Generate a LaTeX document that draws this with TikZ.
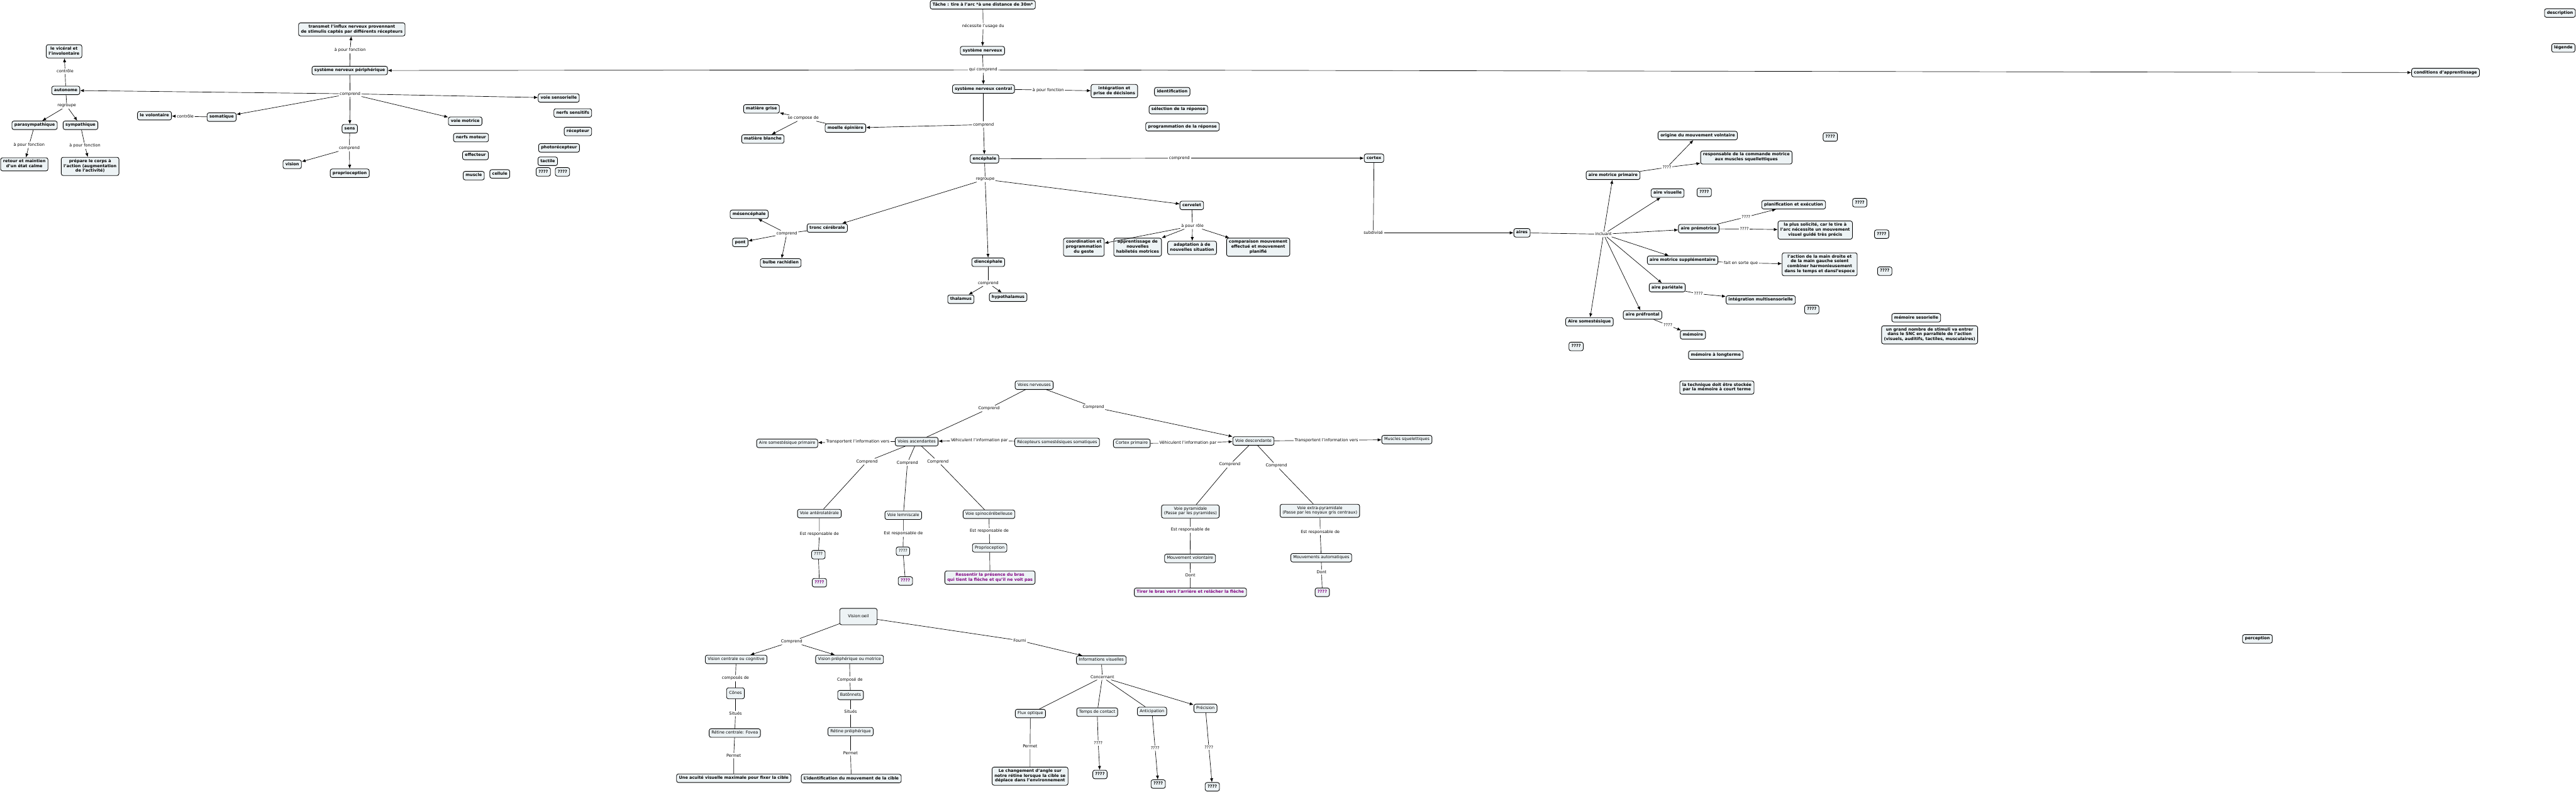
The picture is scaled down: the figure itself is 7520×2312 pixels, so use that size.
\documentclass[tikz,border=0pt]{standalone}
\usepackage{fontspec}
\setmainfont{DejaVu Sans}
\usetikzlibrary{arrows.meta}
\definecolor{boxfill}{RGB}{237,243,245}
\definecolor{plum}{RGB}{128,0,128}
\newcommand\mapfont{\fontsize{3.4}{4.1}\selectfont}

\begin{document}
\begin{tikzpicture}[x=0.01cm,y=-0.01cm,
  concept/.style={draw,rounded corners=1.6pt,fill=boxfill,line width=0.45pt,
    font=\mapfont\bfseries,align=center,inner xsep=2pt,inner ysep=1.5pt,
    execute at begin node=\strut},
  plainbox/.style={concept,font=\mapfont},
  hint/.style={concept,text=plum},
  lab/.style={font=\mapfont,fill=white,inner sep=0.7pt},
  link/.style={line width=0.35pt},
  arr/.style={link,-{Latex[length=3.2pt,width=2.6pt]}}]
\useasboundingbox (0,0) rectangle (7520,2312);

% spine
\node[concept] (tache) at (2869,14) {Tâche : tire à l'arc *à une distance de 30m*};
\node[concept] (sn) at (2868,148) {système nerveux};
\node[concept] (snc) at (2871,260) {système nerveux central};
\node[concept] (snp) at (1021,206) {système nerveux périphérique};
\node[concept] (transmet) at (1027,86) {transmet l'influx nerveux provennant\\de stimulis captés par différents récepteurs};
\node[concept] (conditions) at (7139,212) {conditions d'apprentissage};
\node[concept] (description) at (7473,38) {description};
\node[concept] (legende) at (7483,140) {légende};

% peripheral side
\node[concept] (viceral) at (187,150) {le vicéral et\\l'involontaire};
\node[concept] (autonome) at (192,264) {autonome};
\node[concept] (para) at (101,366) {parasympathique};
\node[concept] (sym) at (235,366) {sympathique};
\node[concept] (retour) at (71,480) {retour et maintien\\d'un état calme};
\node[concept] (prepare) at (263,486) {prépare le corps à\\l'action (augmentation\\de l'activité)};
\node[concept] (volont) at (451,338) {le volontaire};
\node[concept] (somat) at (647,342) {somatique};
\node[concept] (sens) at (1021,376) {sens};
\node[concept] (vision) at (853,480) {vision};
\node[concept] (proprio) at (1021,506) {proprioception};
\node[concept] (vsens) at (1631,286) {voie sensorielle};
\node[concept] (nsens) at (1672,330) {nerfs sensitifs};
\node[concept] (vmot) at (1358,354) {voie motrice};
\node[concept] (recep) at (1687,384) {récepteur};
\node[concept] (nmot) at (1375,402) {nerfs moteur};
\node[concept] (photo) at (1632,432) {photorécepteur};
\node[concept] (effect) at (1388,454) {effecteur};
\node[concept] (tactile) at (1599,471) {tactile};
\node[concept] (qa) at (1586,502) {????};
\node[concept] (qb) at (1642,502) {????};
\node[concept] (muscle) at (1383,513) {muscle};
\node[concept] (cellule) at (1459,508) {cellule};

% central side
\node[concept] (integ) at (3253,266) {intégration et\\prise de décisions};
\node[concept] (ident) at (3422,268) {identification};
\node[concept] (select) at (3440,320) {sélection de la réponse};
\node[concept] (progr) at (3452,370) {programmation de la réponse};
\node[concept] (mgrise) at (2223,318) {matière grise};
\node[concept] (moelle) at (2468,374) {moelle épinière};
\node[concept] (mblanche) at (2227,406) {matière blanche};
\node[concept] (enceph) at (2874,464) {encéphale};
\node[concept] (cortex) at (4011,462) {cortex};
\node[concept] (tronc) at (2415,666) {tronc cérébrale};
\node[concept] (mesen) at (2187,626) {mésencéphale};
\node[concept] (pont) at (2161,708) {pont};
\node[concept] (bulbe) at (2279,768) {bulbe rachidien};
\node[concept] (dience) at (2885,766) {diencéphale};
\node[concept] (thal) at (2805,874) {thalamus};
\node[concept] (hypo) at (2943,868) {hypothalamus};
\node[concept] (cervelet) at (3479,600) {cervelet};
\node[concept] (coord) at (3164,722) {coordination et\\programmation\\du geste};
\node[concept] (appr) at (3321,722) {apprentissage de\\nouvelles\\habiletés motrices};
\node[concept] (adapt) at (3480,724) {adaptation à de\\nouvelles situation};
\node[concept] (compar) at (3673,722) {comparaison mouvement\\effectué et mouvement\\planifié};

% cortex areas
\node[concept] (aires) at (4443,680) {aires};
\node[concept] (somest) at (4640,940) {Aire somestésique};
\node[concept] (qsomest) at (4601,1012) {????};
\node[concept] (amp) at (4709,512) {aire motrice primaire};
\node[concept] (origine) at (4956,396) {origine du mouvement volntaire};
\node[concept] (qc) at (5343,400) {????};
\node[concept] (respons) at (5098,460) {responsable de la commande motrice\\aux muscles squellettiques};
\node[concept] (avis) at (4868,564) {aire visuelle};
\node[concept] (qd) at (4975,562) {????};
\node[concept] (planif) at (5236,598) {planification et exécution};
\node[concept] (qe) at (5429,592) {????};
\node[concept] (aprem) at (4959,668) {aire prémotrice};
\node[concept] (solicite) at (5299,672) {la plus solicité, car le tire à\\l'arc nécessite un mouvement\\visuel guidé très précis};
\node[concept] (qf) at (5493,684) {????};
\node[concept] (ams) at (4912,760) {aire motrice supplémentaire};
\node[concept] (action) at (5312,772) {l'action de la main droite et\\de la main gauche soient\\combiner harmonieusement\\dans le temps et dansl'espoce};
\node[concept] (qg) at (5502,792) {????};
\node[concept] (apar) at (4867,840) {aire pariétale};
\node[concept] (multi) at (5140,876) {intégration multisensorielle};
\node[concept] (qh) at (5289,904) {????};
\node[concept] (apref) at (4795,920) {aire préfrontal};
\node[concept] (memoire) at (4942,978) {mémoire};
\node[concept] (memlong) at (5009,1037) {mémoire à longterme};
\node[concept] (technique) at (5012,1132) {la technique doit être stockée\\par la mémoire à court terme};
\node[concept] (memsens) at (5594,928) {mémoire sesorielle};
\node[concept] (stimuli) at (5633,978) {un grand nombre de stimuli va entrer\\dans le SNC en parrallèle de l'action\\(visuels, auditifs, tactiles, musculaires)};
\node[concept] (perception) at (6590,1866) {perception};

% link phrases, upper map
\node[lab] (lnecess) at (2870,76) {nécessite l'usage du};
\node[lab] (lqui) at (2870,204) {qui comprend};
\node[lab] (lsnpfct) at (1022,147) {à pour fonction};
\node[lab] (lsnpcomp) at (1022,274) {comprend};
\node[lab] (lctrlA) at (190,208) {contrôle};
\node[lab] (lregrA) at (195,310) {regroupe};
\node[lab] (lfctA) at (85,423) {à pour fonction};
\node[lab] (lfctB) at (248,426) {à pour fonction};
\node[lab] (lctrlB) at (541,340) {contrôle};
\node[lab] (lsenscomp) at (1020,433) {comprend};
\node[lab] (lsncfct) at (3060,263) {à pour fonction};
\node[lab] (lsnccomp) at (2871,364) {comprend};
\node[lab] (lcompose) at (2345,345) {se compose de};
\node[lab] (lenccomp) at (3443,462) {comprend};
\node[lab] (lregrB) at (2876,524) {regroupe};
\node[lab] (ltronc) at (2297,682) {comprend};
\node[lab] (ldience) at (2885,827) {comprend};
\node[lab] (lrole) at (3481,660) {à pour rôle};
\node[lab] (lsubdiv) at (4009,680) {subdivisé};
\node[lab] (lincl) at (4681,684) {incluant};
\node[lab] (lamp) at (4866,489) {????};
\node[lab] (lpremA) at (5097,634) {????};
\node[lab] (lpremB) at (5092,669) {????};
\node[lab] (lfait) at (5082,768) {fait en sorte que};
\node[lab] (lpar) at (4958,858) {????};
\node[lab] (lpref) at (4869,950) {????};

\draw[link] (tache) -- (lnecess);
\draw[arr] (lnecess) -- (sn);
\draw[link] (sn) -- (lqui);
\foreach \t in {snc,snp,conditions} \draw[arr] (lqui) -- (\t);
\draw[link] (snp) -- (lsnpfct);
\draw[arr] (lsnpfct) -- (transmet);
\draw[link] (snp) -- (lsnpcomp);
\foreach \t in {autonome,somat,sens,vmot,vsens} \draw[arr] (lsnpcomp) -- (\t);
\draw[link] (autonome) -- (lctrlA);
\draw[arr] (lctrlA) -- (viceral);
\draw[link] (autonome) -- (lregrA);
\foreach \t in {para,sym} \draw[arr] (lregrA) -- (\t);
\draw[link] (para) -- (lfctA);
\draw[arr] (lfctA) -- (retour);
\draw[link] (sym) -- (lfctB);
\draw[arr] (lfctB) -- (prepare);
\draw[link] (somat) -- (lctrlB);
\draw[arr] (lctrlB) -- (volont);
\draw[link] (sens) -- (lsenscomp);
\foreach \t in {vision,proprio} \draw[arr] (lsenscomp) -- (\t);
\draw[link] (snc) -- (lsncfct);
\draw[arr] (lsncfct) -- (integ);
\draw[link] (snc) -- (lsnccomp);
\foreach \t in {moelle,enceph} \draw[arr] (lsnccomp) -- (\t);
\draw[link] (moelle) -- (lcompose);
\foreach \t in {mgrise,mblanche} \draw[arr] (lcompose) -- (\t);
\draw[link] (enceph) -- (lenccomp);
\draw[arr] (lenccomp) -- (cortex);
\draw[link] (enceph) -- (lregrB);
\foreach \t in {tronc,dience,cervelet} \draw[arr] (lregrB) -- (\t);
\draw[link] (tronc) -- (ltronc);
\foreach \t in {mesen,pont,bulbe} \draw[arr] (ltronc) -- (\t);
\draw[link] (dience) -- (ldience);
\foreach \t in {thal,hypo} \draw[arr] (ldience) -- (\t);
\draw[link] (cervelet) -- (lrole);
\foreach \t in {coord,appr,adapt,compar} \draw[arr] (lrole) -- (\t);
\draw[link] (cortex) -- (lsubdiv);
\draw[arr] (lsubdiv) -- (aires);
\draw[link] (aires) -- (lincl);
\foreach \t in {amp,avis,aprem,ams,apar,apref,somest} \draw[arr] (lincl) -- (\t);
\draw[link] (amp) -- (lamp);
\foreach \t in {origine,respons} \draw[arr] (lamp) -- (\t);
\foreach \l/\t in {lpremA/planif,lpremB/solicite} {
  \draw[link] (aprem) -- (\l);
  \draw[arr] (\l) -- (\t);
}
\draw[link] (ams) -- (lfait);
\draw[arr] (lfait) -- (action);
\draw[link] (apar) -- (lpar);
\draw[arr] (lpar) -- (multi);
\draw[link] (apref) -- (lpref);
\draw[arr] (lpref) -- (memoire);

% pathways
\node[plainbox] (voies) at (3019,1125) {Voies nerveuses};
\node[plainbox] (asc) at (2676,1290) {Voies ascendantes};
\node[plainbox] (airesp) at (2298,1295) {Aire somestésique primaire};
\node[plainbox] (recsom) at (3086,1292) {Récepteurs somestésiques somatiques};
\node[plainbox] (cortprim) at (3304,1295) {Cortex primaire};
\node[plainbox] (desc) at (3659,1288) {Voie descendante};
\node[plainbox] (musq) at (4107,1284) {Muscles squelettiques};
\node[plainbox] (antero) at (2392,1500) {Voie antérolatérale};
\node[plainbox] (lemni) at (2637,1505) {Voie lemniscale};
\node[plainbox] (spino) at (2887,1502) {Voie spinocérébelleuse};
\node[plainbox] (qantero) at (2389,1620) {????};
\node[plainbox] (qlemni) at (2636,1610) {????};
\node[plainbox] (proprioB) at (2889,1600) {Proprioception};
\node[hint] (pantero) at (2392,1702) {????};
\node[hint] (plemni) at (2643,1697) {????};
\node[hint] (ressentir) at (2890,1687) {Ressentir la présence du bras\\qui tient la flèche et qu'il ne voit pas};
\node[plainbox] (pyram) at (3475,1494) {Voie pyramidale\\(Passe par les pyramides)};
\node[plainbox] (extra) at (3853,1492) {Voie extra-pyramidale\\(Passe par les noyaux gris centraux)};
\node[plainbox] (mvol) at (3474,1631) {Mouvement volontaire};
\node[plainbox] (mauto) at (3857,1629) {Mouvements automatiques};
\node[hint] (tirer) at (3475,1730) {Tirer le bras vers l'arrière et relâcher la flèche};
\node[hint] (pauto) at (3860,1730) {????};

\node[lab] (lcompA) at (2887,1193) {Comprend};
\node[lab] (lcompD) at (3192,1189) {Comprend};
\node[lab] (ltransA) at (2504,1290) {Transportent l'information vers};
\node[lab] (lvehA) at (2859,1286) {Véhiculent l'information par};
\node[lab] (lvehD) at (3468,1294) {Véhiculent l'information par};
\node[lab] (ltransD) at (3872,1286) {Transportent l'information vers};
\node[lab] (lcA) at (2531,1348) {Comprend};
\node[lab] (lcB) at (2649,1352) {Comprend};
\node[lab] (lcC) at (2738,1348) {Comprend};
\node[lab] (lcD) at (3590,1357) {Comprend};
\node[lab] (lcE) at (3726,1360) {Comprend};
\node[lab] (lrA) at (2392,1560) {Est responsable de};
\node[lab] (lrB) at (2637,1559) {Est responsable de};
\node[lab] (lrC) at (2888,1551) {Est responsable de};
\node[lab] (lrD) at (3475,1547) {Est responsable de};
\node[lab] (lrE) at (3854,1554) {Est responsable de};
\node[lab] (ldontA) at (3475,1680) {Dont};
\node[lab] (ldontB) at (3858,1671) {Dont};

\draw[link] (voies) -- (lcompA) -- (asc);
\draw[link] (voies) -- (lcompD);
\draw[arr] (lcompD) -- (desc);
\draw[link] (asc) -- (ltransA);
\draw[arr] (ltransA) -- (airesp);
\draw[link] (recsom) -- (lvehA);
\draw[arr] (lvehA) -- (asc);
\draw[link] (cortprim) -- (lvehD);
\draw[arr] (lvehD) -- (desc);
\draw[link] (desc) -- (ltransD);
\draw[arr] (ltransD) -- (musq);
\foreach \l/\t in {lcA/antero,lcB/lemni,lcC/spino} \draw[link] (asc) -- (\l) -- (\t);
\foreach \l/\t in {lcD/pyram,lcE/extra} \draw[link] (desc) -- (\l) -- (\t);
\foreach \s/\l/\t in {antero/lrA/qantero,lemni/lrB/qlemni,spino/lrC/proprioB,pyram/lrD/mvol,extra/lrE/mauto}
  \draw[link] (\s) -- (\l) -- (\t);
\foreach \s/\t in {qantero/pantero,qlemni/plemni,proprioB/ressentir} \draw[link] (\s) -- (\t);
\draw[link] (mvol) -- (ldontA) -- (tirer);
\draw[link] (mauto) -- (ldontB) -- (pauto);

% vision
\node[plainbox,minimum width=1.09cm,minimum height=0.48cm] (oeil) at (2506,1801) {Vision:oeil};
\node[plainbox] (vcent) at (2149,1926) {Vision centrale ou cognitive};
\node[plainbox] (vperi) at (2480,1926) {Vision préiphérique ou motrice};
\node[plainbox,minimum width=0.52cm,minimum height=0.32cm] (cones) at (2147,2025) {Cônes};
\node[plainbox,minimum height=0.27cm] (baton) at (2483,2030) {Batônnets};
\node[plainbox] (rcent) at (2145,2141) {Rétine centrale: Fovea};
\node[plainbox] (rperi) at (2483,2137) {Rétine préiphérique};
\node[concept] (acuite) at (2142,2273) {Une acuité visuelle maximale pour fixer la cible};
\node[concept] (identB) at (2485,2274) {L'identification du mouvement de la cible};
\node[plainbox] (infos) at (3215,1928) {Informations visuelles};
\node[plainbox] (flux) at (3008,2084) {Flux optique};
\node[plainbox] (temps) at (3203,2080) {Temps de contact};
\node[plainbox] (antic) at (3363,2078) {Anticipation};
\node[plainbox] (precis) at (3519,2069) {Précision};
\node[concept] (angle) at (3007,2267) {Le changement d'angle sur\\notre rétine lorsque la cible se\\déplace dans l'environnement};
\node[concept] (qt) at (3211,2262) {????};
\node[concept] (qan) at (3381,2290) {????};
\node[concept] (qp) at (3539,2298) {????};

\node[lab] (loeil) at (2311,1874) {Comprend};
\node[lab] (lfourni) at (2977,1871) {Fourni};
\node[lab] (lcpdA) at (2147,1981) {composés de};
\node[lab] (lcpdB) at (2481,1985) {Composé de};
\node[lab] (lsitA) at (2147,2084) {Situés};
\node[lab] (lsitB) at (2483,2079) {Situés};
\node[lab] (lpermA) at (2142,2207) {Permet};
\node[lab] (lpermB) at (2483,2200) {Permet};
\node[lab] (lconcern) at (3218,1978) {Concernant};
\node[lab] (lpermC) at (3007,2180) {Permet};
\node[lab] (lqt) at (3206,2171) {????};
\node[lab] (lqa) at (3372,2185) {????};
\node[lab] (lqp) at (3529,2183) {????};

\draw[link] (oeil) -- (loeil);
\foreach \t in {vcent,vperi} \draw[arr] (loeil) -- (\t);
\draw[link] (oeil) -- (lfourni);
\draw[arr] (lfourni) -- (infos);
\draw[link] (vcent) -- (lcpdA) -- (cones) -- (lsitA) -- (rcent) -- (lpermA) -- (acuite);
\draw[link] (vperi) -- (lcpdB) -- (baton) -- (lsitB) -- (rperi) -- (lpermB) -- (identB);
\draw[link] (infos) -- (lconcern);
\foreach \t in {flux,temps,antic} \draw[link] (lconcern) -- (\t);
\draw[arr] (lconcern) -- (precis);
\draw[link] (flux) -- (lpermC) -- (angle);
\foreach \s/\l/\t in {temps/lqt/qt,antic/lqa/qan,precis/lqp/qp} {
  \draw[link] (\s) -- (\l);
  \draw[arr] (\l) -- (\t);
}
\end{tikzpicture}
\end{document}
